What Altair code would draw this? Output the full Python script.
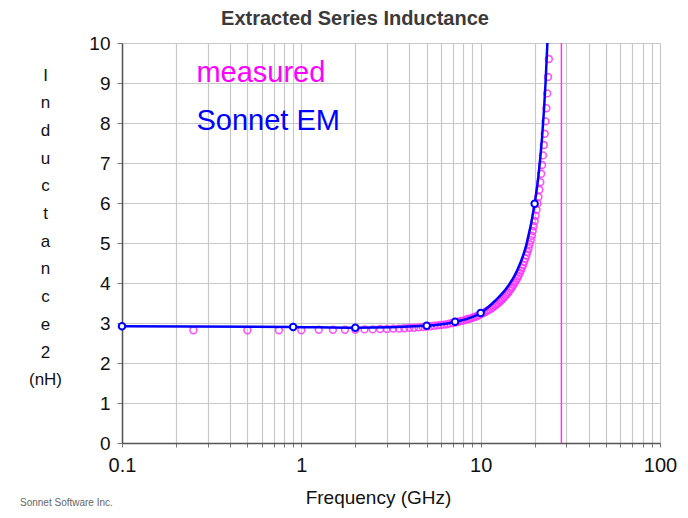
import altair as alt
import pandas as pd

# Measured data (magenta circles), GHz / nH
meas_f = [0.25, 0.5, 0.75, 1.0, 1.25, 1.5, 1.75, 2.0, 2.25, 2.5, 2.75, 3.0, 3.25, 3.5, 3.75,
          4.0, 4.25, 4.5, 4.75, 5.0, 5.25, 5.5, 5.75, 6.0, 6.25, 6.5, 6.75, 7.0, 7.25, 7.5,
          7.75, 8.0, 8.25, 8.5, 8.75, 9.0, 9.25, 9.5, 9.75, 10.0, 10.25, 10.5, 10.75, 11.0,
          11.25, 11.5, 11.75, 12.0, 12.25, 12.5, 12.75, 13.0, 13.25, 13.5, 13.75, 14.0, 14.25,
          14.5, 14.75, 15.0, 15.25, 15.5, 15.75, 16.0, 16.25, 16.5, 16.75, 17.0, 17.25, 17.5,
          17.75, 18.0, 18.25, 18.5, 18.75, 19.0, 19.25, 19.5, 19.75, 20.0, 20.25, 20.5, 20.75,
          21.0, 21.25, 21.5, 21.75, 22.0, 22.25, 22.5, 22.75, 23.0, 23.25, 23.5, 23.75, 24.0,
          24.25]
meas_L = [2.82, 2.82, 2.82, 2.82, 2.83, 2.83, 2.83, 2.83, 2.84, 2.84, 2.85, 2.85, 2.86, 2.86,
          2.87, 2.88, 2.88, 2.89, 2.90, 2.91, 2.92, 2.93, 2.94, 2.95, 2.96, 2.97, 2.99, 3.00,
          3.02, 3.03, 3.05, 3.06, 3.08, 3.10, 3.11, 3.13, 3.15, 3.17, 3.19, 3.22, 3.24, 3.26,
          3.29, 3.32, 3.34, 3.37, 3.40, 3.43, 3.46, 3.49, 3.53, 3.56, 3.60, 3.64, 3.68, 3.72,
          3.76, 3.81, 3.86, 3.90, 3.96, 4.01, 4.06, 4.12, 4.18, 4.25, 4.31, 4.38, 4.45, 4.53,
          4.61, 4.69, 4.78, 4.87, 4.97, 5.07, 5.18, 5.30, 5.42, 5.55, 5.68, 5.83, 5.99, 6.15,
          6.33, 6.52, 6.73, 6.95, 7.19, 7.45, 7.73, 8.04, 8.37, 8.74, 9.15, 9.60, 10.10]

# Sonnet EM curve (blue line) and its markers
em_line_f = [0.1, 0.9, 2.0, 5.0, 7.2, 10.0, 12.0, 14.0, 16.0, 18.0, 20.0, 21.0, 22.0, 23.0, 23.5, 24.0]
em_line_L = [2.92, 2.90, 2.88, 2.93, 3.03, 3.25, 3.55, 3.88, 4.32, 4.96, 5.98, 6.68, 7.64, 9.00, 9.90, 11.05]
em_mark_f = [0.1, 0.9, 2.0, 5.0, 7.2, 10.0, 20.0]
em_mark_L = [2.92, 2.90, 2.88, 2.93, 3.03, 3.25, 5.98]

resonance_f = [28.2]

legend_labels = ["measured", "Sonnet EM"]
legend_colors = ["#ff00ff", "#0000ff"]
legend_f = [0.26, 0.26]
legend_L = [9.25, 8.05]

x_grid_values = [0.1, 0.2, 0.3, 0.4, 0.5, 0.6, 0.7, 0.8, 0.9,
                 1, 2, 3, 4, 5, 6, 7, 8, 9,
                 10, 20, 30, 40, 50, 60, 70, 80, 90, 100]
y_values = [0, 1, 2, 3, 4, 5, 6, 7, 8, 9, 10]

title_text = "Extracted Series Inductance"
x_title = "Frequency (GHz)"
y_title = ["I", "n", "d", "u", "c", "t", "a", "n", "c", "e", "2", "", "(nH)"]
footer = "Sonnet Software Inc."

FONT = "Liberation Sans"

meas_df = pd.DataFrame({"f": meas_f, "L": meas_L})
line_df = pd.DataFrame({"f": em_line_f, "L": em_line_L})
mark_df = pd.DataFrame({"f": em_mark_f, "L": em_mark_L})
res_df = pd.DataFrame({"f": resonance_f})
leg_df = pd.DataFrame({"label": legend_labels, "color": legend_colors, "f": legend_f, "L": legend_L})
title_df = pd.DataFrame({"t": [title_text]})
foot_df = pd.DataFrame({"t": [footer]})

xscale = alt.Scale(type="log", domain=[0.1, 100], nice=False)
yscale = alt.Scale(domain=[0, 10], nice=False)

xaxis = alt.Axis(
    values=x_grid_values,
    labelExpr="indexof([0.1, 1, 10, 100], datum.value) >= 0 ? datum.label : ''",
    format="~g",
    title=x_title,
    titleX=256, titleY=60, titleAlign="center", titleBaseline="alphabetic",
    titleFontSize=19, titleFontWeight="normal", titleColor="#111", titleFont=FONT,
    labelFontSize=20, labelColor="#111", labelFont=FONT, labelPadding=8,
    labelFlush=False, labelOverlap=False,
    grid=True, gridColor="#c8c8c8", gridWidth=1.2,
    tickSize=4, tickColor="#777", domainColor="#555", domainWidth=1.5,
)
yaxis = alt.Axis(
    values=y_values,
    title=y_title,
    titleAngle=0, titleX=-77, titleY=24, titleAlign="center", titleBaseline="top",
    titleFontSize=17, titleFontWeight="normal", titleLineHeight=27.7, titleColor="#111",
    titleFont=FONT,
    labelFontSize=19, labelColor="#111", labelFont=FONT, labelPadding=7,
    labelOverlap=False, labelFlush=False,
    grid=True, gridColor="#c8c8c8", gridWidth=1.2,
    tickSize=5, tickColor="#777", domainColor="#555", domainWidth=1.5,
)

X = alt.X("f:Q", scale=xscale, axis=xaxis)
Y = alt.Y("L:Q", scale=yscale, axis=yaxis)

meas = alt.Chart(meas_df).mark_point(
    shape="circle", filled=False, size=46, color="#ff33ff", strokeWidth=1.6, opacity=0.85, clip=True
).encode(x=X, y=Y)

res = alt.Chart(res_df).mark_rule(color="#ff33ff", strokeWidth=1.5).encode(x=X)

line = alt.Chart(line_df).mark_line(
    color="#0000ff", strokeWidth=2.5, interpolate="monotone", clip=True
).encode(x=X, y=Y)

marks = alt.Chart(mark_df).mark_point(
    shape="circle", filled=True, fill="white", stroke="#0000ff", size=42, strokeWidth=2, opacity=1
).encode(x=X, y=Y)

legend = alt.Chart(leg_df).mark_text(
    align="left", baseline="middle", fontSize=29, font=FONT
).encode(
    x=X, y=Y,
    text="label:N", color=alt.Color("color:N", scale=None)
)

title = alt.Chart(title_df).mark_text(
    align="center", baseline="alphabetic", fontSize=20, font=FONT, fontWeight="bold", color="#3a3a3a"
).encode(x=alt.value(233), y=alt.value(-18), text="t:N")

foot = alt.Chart(foot_df).mark_text(
    align="left", baseline="middle", fontSize=10, font=FONT, color="#666"
).encode(x=alt.value(-102), y=alt.value(460), text="t:N")

chart = alt.layer(meas, res, line, marks, legend, title, foot).properties(
    width=538, height=400,
    autosize=alt.AutoSizeParams(type="none"),
    padding={"left": 114, "top": 35, "right": 20, "bottom": 65},
).configure_view(stroke="#777", strokeWidth=1.5).configure(background="white")

chart.save("out.html", embed_options={"renderer": "svg", "actions": False})
